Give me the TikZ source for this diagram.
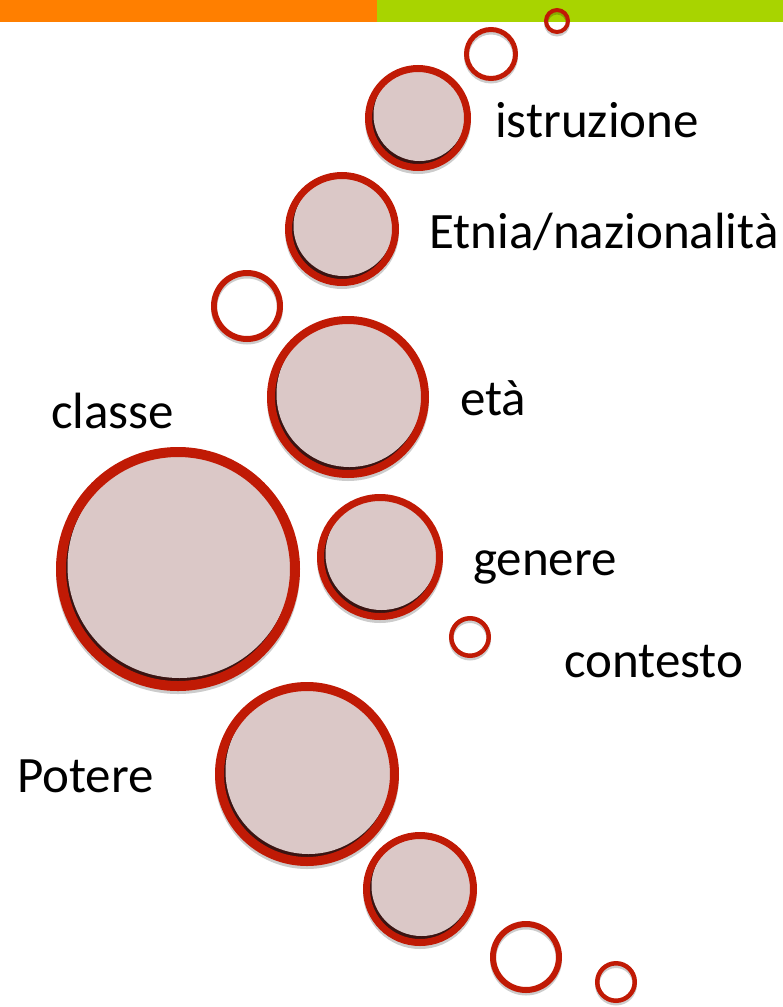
\documentclass[tikz,border=0pt]{standalone}
\usepackage{fontspec}
\setmainfont{Carlito}
\usetikzlibrary{shadows,calc}

\definecolor{barorange}{HTML}{FF7F00}
\definecolor{bargreen}{HTML}{A8D400}
\definecolor{ringred}{HTML}{C01A05}
\definecolor{bubblefill}{HTML}{DBC8C7}
\definecolor{innerdark}{HTML}{3A1412}

\begin{document}
\begin{tikzpicture}[x=1pt,y=-1pt,
    bubble/.style={circle,inner sep=0pt,draw=ringred,fill=bubblefill,
        drop shadow={shadow xshift=0pt,shadow yshift=-3pt,opacity=0.2,fill=black,draw=black},
        path picture={
            \fill[innerdark] (path picture bounding box.south west) rectangle (path picture bounding box.north east);
            \fill[bubblefill] let \p1=(path picture bounding box.center), \p2=(path picture bounding box.east)
                in ([shift={(1.5pt,3pt)}]\p1) circle ({\x2-\x1-0.5\pgflinewidth});
        }},
    ring/.style={circle,inner sep=0pt,draw=ringred,
        drop shadow={shadow xshift=0pt,shadow yshift=-2.5pt,opacity=0.2,fill=none,draw=black}},
    word/.style={anchor=base west,inner sep=0pt,font=\fontsize{51}{61}\selectfont}]

    \useasboundingbox (0,0) rectangle (783,1007);

    % top bar
    \fill[barorange] (0,0) rectangle (377,22);
    \fill[bargreen] (377,0) rectangle (783,22);

    % bubbles, top to bottom
    \node[ring,minimum size=22pt,line width=4pt]       (r1)      at (557,21)  {};
    \node[ring,minimum size=49pt,line width=5pt]       (r2)      at (491,54)  {};
    \node[bubble,minimum size=99pt,line width=7pt]     (istr)    at (418,118) {};
    \node[bubble,minimum size=107pt,line width=7pt]    (etnia)   at (342,229) {};
    \node[ring,minimum size=66pt,line width=6pt]       (r3)      at (247,306) {};
    \node[bubble,minimum size=154pt,line width=8pt]    (eta)     at (348,397) {};
    \node[bubble,minimum size=234pt,line width=10pt]   (classe)  at (178,569) {};
    \node[bubble,minimum size=119pt,line width=7pt]    (genere)  at (380,557) {};
    \node[ring,minimum size=37.5pt,line width=4.5pt]   (r4)      at (470,637) {};
    \node[bubble,minimum size=175pt,line width=9pt]    (potere)  at (307,774) {};
    \node[bubble,minimum size=107pt,line width=7pt]    (b1)      at (420,889) {};
    \node[ring,minimum size=66pt,line width=6pt]       (r5)      at (526,957) {};
    \node[ring,minimum size=37.5pt,line width=4.5pt]   (r6)      at (616,982) {};

    % labels
    \node[word] (t-istr)     at (495,137) {istruzione};
    \node[word] (t-etnia)    at (429,248) {Etnia/nazionalità};
    \node[word] (t-eta)      at (460,415) {età};
    \node[word] (t-classe)   at (51,428)  {classe};
    \node[word] (t-genere)   at (473,575) {genere};
    \node[word] (t-contesto) at (564,677) {contesto};
    \node[word] (t-potere)   at (17,792)  {Potere};
\end{tikzpicture}
\end{document}
